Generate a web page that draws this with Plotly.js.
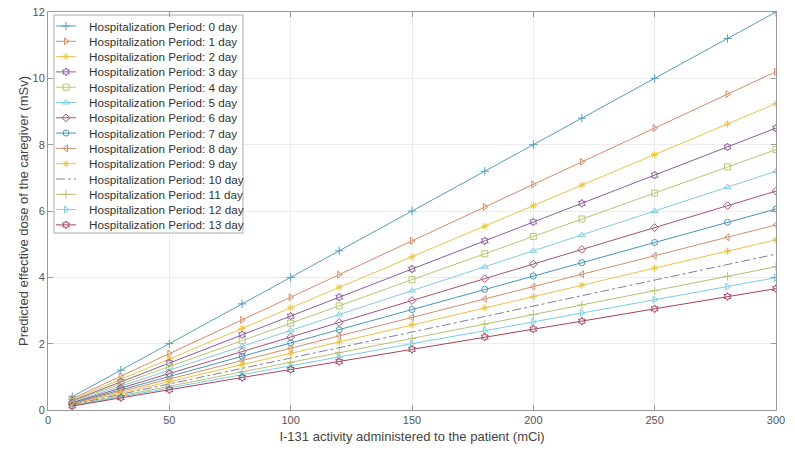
<!DOCTYPE html>
<html>
<head>
<meta charset="utf-8">
<script src="https://cdn.plot.ly/plotly-3.0.1.min.js"></script>
<style>html,body{margin:0;padding:0;background:#fff}#chart{width:795px;height:450px}</style>
</head>
<body>
<div id="chart"></div>
<script>
const activity = [10, 30, 50, 80, 100, 120, 150, 180, 200, 220, 250, 280, 300];
const seriesNames = [
  "Hospitalization Period: 0 day", "Hospitalization Period: 1 day", "Hospitalization Period: 2 day",
  "Hospitalization Period: 3 day", "Hospitalization Period: 4 day", "Hospitalization Period: 5 day",
  "Hospitalization Period: 6 day", "Hospitalization Period: 7 day", "Hospitalization Period: 8 day",
  "Hospitalization Period: 9 day", "Hospitalization Period: 10 day", "Hospitalization Period: 11 day",
  "Hospitalization Period: 12 day", "Hospitalization Period: 13 day"
];
const day0  = [0.40, 1.20, 2.00, 3.20, 4.00, 4.80, 6.00, 7.20, 8.00, 8.80, 10.00, 11.20, 12.00];
const day1  = [0.34, 1.02, 1.70, 2.72, 3.40, 4.08, 5.10, 6.12, 6.80, 7.48, 8.50, 9.52, 10.20];
const day2  = [0.31, 0.92, 1.54, 2.46, 3.08, 3.70, 4.62, 5.54, 6.16, 6.78, 7.70, 8.62, 9.24];
const day3  = [0.28, 0.85, 1.42, 2.27, 2.83, 3.40, 4.25, 5.10, 5.67, 6.23, 7.08, 7.93, 8.50];
const day4  = [0.26, 0.79, 1.31, 2.09, 2.62, 3.14, 3.93, 4.71, 5.23, 5.76, 6.54, 7.33, 7.85];
const day5  = [0.24, 0.72, 1.20, 1.92, 2.40, 2.88, 3.60, 4.32, 4.80, 5.28, 6.00, 6.72, 7.20];
const day6  = [0.22, 0.66, 1.10, 1.76, 2.20, 2.64, 3.30, 3.96, 4.40, 4.84, 5.50, 6.16, 6.60];
const day7  = [0.20, 0.61, 1.01, 1.62, 2.02, 2.42, 3.03, 3.64, 4.04, 4.44, 5.05, 5.66, 6.06];
const day8  = [0.19, 0.56, 0.93, 1.49, 1.86, 2.23, 2.79, 3.35, 3.72, 4.09, 4.65, 5.21, 5.58];
const day9  = [0.17, 0.51, 0.86, 1.37, 1.71, 2.05, 2.57, 3.08, 3.42, 3.76, 4.28, 4.79, 5.13];
const day10 = [0.16, 0.47, 0.78, 1.25, 1.57, 1.88, 2.35, 2.82, 3.13, 3.45, 3.92, 4.39, 4.70];
const day11 = [0.14, 0.43, 0.72, 1.15, 1.44, 1.73, 2.16, 2.59, 2.88, 3.17, 3.60, 4.03, 4.32];
const day12 = [0.13, 0.40, 0.67, 1.06, 1.33, 1.60, 2.00, 2.39, 2.66, 2.93, 3.33, 3.72, 3.99];
const day13 = [0.12, 0.37, 0.61, 0.98, 1.22, 1.46, 1.83, 2.20, 2.44, 2.68, 3.05, 3.42, 3.66];
const allSeries = [day0, day1, day2, day3, day4, day5, day6, day7, day8, day9, day10, day11, day12, day13];

const colors = ["#559fbf", "#d98a66", "#e9c445", "#8c5e9c", "#b5c772", "#82cbe4", "#a5527a",
                "#4795b8", "#cf8f6e", "#ebc344", "#80809c", "#b9c076", "#7acde6", "#a9435f"];
const symbols = ["cross-thin-open", "triangle-right-open", "asterisk-open", "hexagram-open", "square-open",
                 "triangle-up-open", "diamond-open", "circle-open", "triangle-left-open", "asterisk-open",
                 "circle", "cross-thin-open", "triangle-right-open", "hexagram-open"];

const FONT = "Liberation Sans, Arial, sans-serif";

const traces = allSeries.map((ys, i) => ({
  x: activity, y: ys, name: seriesNames[i], type: "scatter",
  mode: i === 10 ? "lines" : "lines+markers",
  line: {color: colors[i], width: 1, dash: i === 10 ? "dashdot" : "solid"},
  marker: {symbol: symbols[i], size: 6, color: colors[i], line: {color: colors[i], width: 1}},
  showlegend: false
}));

// Legend drawn on an overlay pixel-like axis pair (x2: px-48, y2: py-12)
const LG = {x0: 6, x1: 195, y0: 3, y1: 221, first: 14, step: 15.3, s0: 8, s1: 28, text: 39};
traces.push({
  x: [LG.x0, LG.x1, LG.x1, LG.x0, LG.x0], y: [LG.y0, LG.y0, LG.y1, LG.y1, LG.y0],
  xaxis: "x2", yaxis: "y2", type: "scatter", mode: "lines", fill: "toself",
  fillcolor: "#ffffff", line: {color: "#aaaaaa", width: 1}, showlegend: false, hoverinfo: "skip"
});
const annotations = [];
seriesNames.forEach((nm, i) => {
  const yy = LG.first + LG.step * i;
  traces.push({
    x: [LG.s0, LG.s1], y: [yy, yy], xaxis: "x2", yaxis: "y2", type: "scatter", mode: "lines",
    line: {color: colors[i], width: 1, dash: i === 10 ? "dashdot" : "solid"}, showlegend: false
  });
  if (i !== 10) {
    traces.push({
      x: [(LG.s0 + LG.s1) / 2], y: [yy], xaxis: "x2", yaxis: "y2", type: "scatter", mode: "markers",
      marker: {symbol: symbols[i], size: 6, color: colors[i], line: {color: colors[i], width: 1}},
      showlegend: false
    });
  }
  annotations.push({
    xref: "x2", yref: "y2", x: LG.text, y: yy, text: nm, showarrow: false,
    xanchor: "left", yanchor: "middle",
    font: {family: FONT, size: 11.7, color: "#333"}
  });
});

const axisCommon = {
  showline: true, linecolor: "#9a9a9a", linewidth: 1, mirror: "allticks",
  ticks: "inside", ticklen: 5, tickcolor: "#9a9a9a",
  showgrid: true, gridcolor: "#ececec", zeroline: false,
  tickfont: {family: FONT, size: 11, color: "#555"}
};

const layout = {
  width: 795, height: 450,
  margin: {l: 48, r: 19, t: 12, b: 40},
  paper_bgcolor: "#fff", plot_bgcolor: "#fff",
  showlegend: false,
  annotations: annotations,
  xaxis: Object.assign({}, axisCommon, {
    range: [0, 300], tickvals: [0, 50, 100, 150, 200, 250, 300],
    title: {text: "I-131 activity administered to the patient (mCi)", standoff: 6,
            font: {family: FONT, size: 13, color: "#444"}}
  }),
  yaxis: Object.assign({}, axisCommon, {
    range: [0, 12], tickvals: [0, 2, 4, 6, 8, 10, 12],
    title: {text: "Predicted effective dose of the caregiver (mSv)", standoff: 0,
            font: {family: FONT, size: 13, color: "#444"}}
  }),
  xaxis2: {overlaying: "x", range: [0, 728], visible: false, fixedrange: true},
  yaxis2: {overlaying: "y", range: [398, 0], visible: false, fixedrange: true}
};

Plotly.newPlot("chart", traces, layout, {displayModeBar: false, staticPlot: true});
</script>
</body>
</html>
